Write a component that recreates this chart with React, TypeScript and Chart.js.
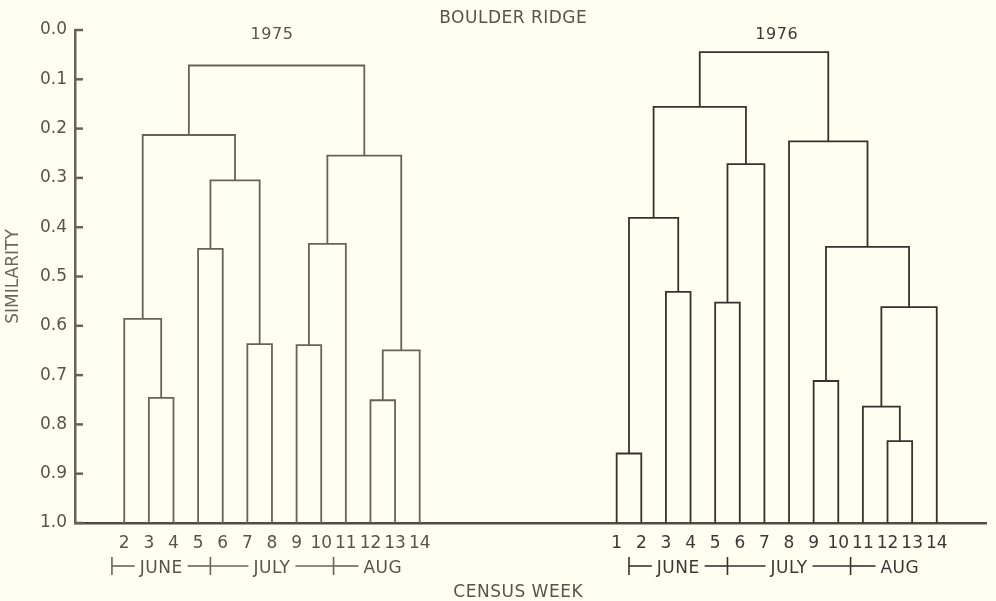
import { useEffect, useRef } from 'react';
import { Chart, registerables } from 'chart.js';

Chart.register(...registerables);

// ---------- data ----------
const chartTitle = 'BOULDER RIDGE';
const xAxisTitle = 'CENSUS WEEK';
const yAxisTitle = 'SIMILARITY';
const yearLabels = ['1975', '1976'];

// census weeks (leaves) of each dendrogram
const leaves1975 = [2, 3, 4, 5, 6, 7, 8, 9, 10, 11, 12, 13, 14];
const leaves1976 = [1, 2, 3, 4, 5, 6, 7, 8, 9, 10, 11, 12, 13, 14];

// merges: [left member, right member, similarity level]; "nK" = K-th merge
const links1975: [string, string, number][] = [
  ['3', '4', 0.746],
  ['2', 'n0', 0.586],
  ['5', '6', 0.444],
  ['7', '8', 0.637],
  ['n2', 'n3', 0.305],
  ['n1', 'n4', 0.213],
  ['9', '10', 0.639],
  ['n6', '11', 0.434],
  ['12', '13', 0.751],
  ['n8', '14', 0.65],
  ['n7', 'n9', 0.255],
  ['n5', 'n10', 0.072],
];
const links1976: [string, string, number][] = [
  ['1', '2', 0.859],
  ['3', '4', 0.531],
  ['n0', 'n1', 0.381],
  ['5', '6', 0.553],
  ['n3', '7', 0.272],
  ['n2', 'n4', 0.156],
  ['9', '10', 0.712],
  ['12', '13', 0.834],
  ['11', 'n7', 0.764],
  ['n8', '14', 0.562],
  ['n6', 'n9', 0.44],
  ['8', 'n10', 0.226],
  ['n5', 'n11', 0.045],
];

const monthNames = ['JUNE', 'JULY', 'AUG'];
const monthStartWeeks = [1.5, 5.5, 10.5];
const monthEndWeek = 14.5;

const yTickValues = [0, 0.1, 0.2, 0.3, 0.4, 0.5, 0.6, 0.7, 0.8, 0.9, 1.0];

// ---------- layout / style ----------
const OFFSET_1976 = 21; // shift of 1976 weeks on the shared x scale
const X_MAX = 37;
const BG = '#fffef1';
const GRAY = '#67635a';
const DARK = '#34332f';
const TEXT = '#58544c';
const TEXT_DARK = '#3a3935';
const FAMILY = "'DejaVu Sans', sans-serif";

function buildSegments(leaves: number[], links: [string, string, number][], offset: number) {
  const pos: Record<string, { x: number; h: number }> = {};
  leaves.forEach((w) => (pos[String(w)] = { x: w + offset, h: 1 }));
  const segs: { x: number; y: number }[][] = [];
  links.forEach(([a, b, h], i) => {
    const A = pos[a];
    const B = pos[b];
    segs.push([
      { x: A.x, y: A.h },
      { x: A.x, y: h },
      { x: B.x, y: h },
      { x: B.x, y: B.h },
    ]);
    pos['n' + i] = { x: (A.x + B.x) / 2, h };
  });
  return segs;
}

function tickLabel(v: number): string {
  if (v <= 15 && leaves1975.includes(v)) return String(v);
  if (v > 15 && leaves1976.includes(v - OFFSET_1976)) return String(v - OFFSET_1976);
  return '';
}

const decorPlugin = {
  id: 'decor',
  afterDraw(chart: any) {
    const { ctx, chartArea, scales } = chart;
    const xs = scales.x;
    const ys = scales.y;
    ctx.save();
    // inward y ticks
    ctx.strokeStyle = GRAY;
    ctx.lineWidth = 2.5;
    yTickValues.forEach((v) => {
      const y = ys.getPixelForValue(v);
      ctx.beginPath();
      ctx.moveTo(chartArea.left, y);
      ctx.lineTo(chartArea.left + 8, y);
      ctx.stroke();
    });

    // titles
    ctx.fillStyle = TEXT;
    ctx.textAlign = 'center';
    ctx.textBaseline = 'alphabetic';
    ctx.font = `17px ${FAMILY}`;
    try {
      ctx.letterSpacing = '0.5px';
    } catch (e) {}
    ctx.fillText(chartTitle, xs.getPixelForValue(17.8), 23);
    ctx.fillText(xAxisTitle, xs.getPixelForValue(18), 596.5);

    ctx.font = `16px ${FAMILY}`;
    const spans = [leaves1975.map((w) => w), leaves1976.map((w) => w + OFFSET_1976)];
    yearLabels.forEach((lab, i) => {
      const s = spans[i];
      const mid = (s[0] + s[s.length - 1]) / 2;
      ctx.fillStyle = i === 0 ? TEXT : TEXT_DARK;
      ctx.fillText(lab, xs.getPixelForValue(mid), 38.5);
    });

    // month row
    const rowY = 566;
    ctx.font = `17px ${FAMILY}`;
    [0, OFFSET_1976].forEach((off, yi) => {
      const col = yi === 0 ? GRAY : DARK;
      ctx.strokeStyle = col;
      ctx.fillStyle = yi === 0 ? TEXT : TEXT_DARK;
      ctx.lineWidth = 1.6;
      monthNames.forEach((name, mi) => {
        const a = monthStartWeeks[mi] + off;
        const b = (mi + 1 < monthStartWeeks.length ? monthStartWeeks[mi + 1] : monthEndWeek) + off;
        const xa = xs.getPixelForValue(a);
        const xb = xs.getPixelForValue(b);
        const cx = (xa + xb) / 2;
        const w = ctx.measureText(name).width;
        // start tick
        ctx.beginPath();
        ctx.moveTo(xa, rowY - 9);
        ctx.lineTo(xa, rowY + 9);
        ctx.stroke();
        // lines
        ctx.beginPath();
        ctx.moveTo(xa, rowY);
        ctx.lineTo(cx - w / 2 - 5, rowY);
        ctx.stroke();
        if (mi + 1 < monthNames.length) {
          ctx.beginPath();
          ctx.moveTo(cx + w / 2 + 5, rowY);
          ctx.lineTo(xb, rowY);
          ctx.stroke();
        }
        ctx.fillText(name, cx, rowY + 6.5);
      });
    });
    ctx.restore();
  },
};

export default function App() {
  const ref = useRef<HTMLCanvasElement>(null);
  useEffect(() => {
    if (!ref.current) return;
    const segs75 = buildSegments(leaves1975, links1975, 0);
    const segs76 = buildSegments(leaves1976, links1976, OFFSET_1976);
    const mk = (data: any, color: string) => ({
      data,
      showLine: true,
      borderColor: color,
      borderWidth: 1.8,
      pointRadius: 0,
      fill: false,
      tension: 0,
    });
    const datasets = [...segs75.map((d) => mk(d, GRAY)), ...segs76.map((d) => mk(d, DARK))];
    const chart = new Chart(ref.current, {
      type: 'scatter',
      data: { datasets },
      options: {
        animation: false,
        responsive: false,
        maintainAspectRatio: false,
        layout: { padding: { top: 30, right: 4, left: 0, bottom: 0 } },
        plugins: { legend: { display: false }, tooltip: { enabled: false }, title: { display: false } },
        scales: {
          x: {
            type: 'linear',
            min: 0,
            max: X_MAX,
            grid: { display: false, drawTicks: false },
            border: { display: true, color: '#4f4c46', width: 2.5 },
            ticks: {
              stepSize: 1,
              autoSkip: false,
              maxRotation: 0,
              padding: 10,
              font: { family: FAMILY, size: 17 },
              color: (c: any) => (c.tick && c.tick.value > 15 ? TEXT_DARK : TEXT),
              callback: (v: any) => tickLabel(Number(v)),
            },
            afterFit: (s: any) => {
              s.height = 78;
            },
          },
          y: {
            type: 'linear',
            reverse: true,
            min: 0,
            max: 1,
            grid: { display: false, drawTicks: false },
            border: { display: true, color: GRAY, width: 2.5 },
            ticks: {
              stepSize: 0.1,
              padding: 8,
              font: { family: FAMILY, size: 17 },
              color: TEXT,
              callback: (v: any) => Number(v).toFixed(1),
            },
            title: {
              display: true,
              text: yAxisTitle,
              color: '#6a665e',
              font: { family: FAMILY, size: 17 },
              padding: { top: 3, bottom: 0 },
            },
            afterFit: (s: any) => {
              s.width = 75;
            },
          },
        },
      } as any,
      plugins: [decorPlugin],
    });
    return () => chart.destroy();
  }, []);
  return (
    <div style={{ position: 'fixed', left: 0, top: 0, width: 996, height: 601, background: BG }}>
      <canvas ref={ref} width={996} height={601} style={{ display: 'block', width: 996, height: 601 }} />
    </div>
  );
}
